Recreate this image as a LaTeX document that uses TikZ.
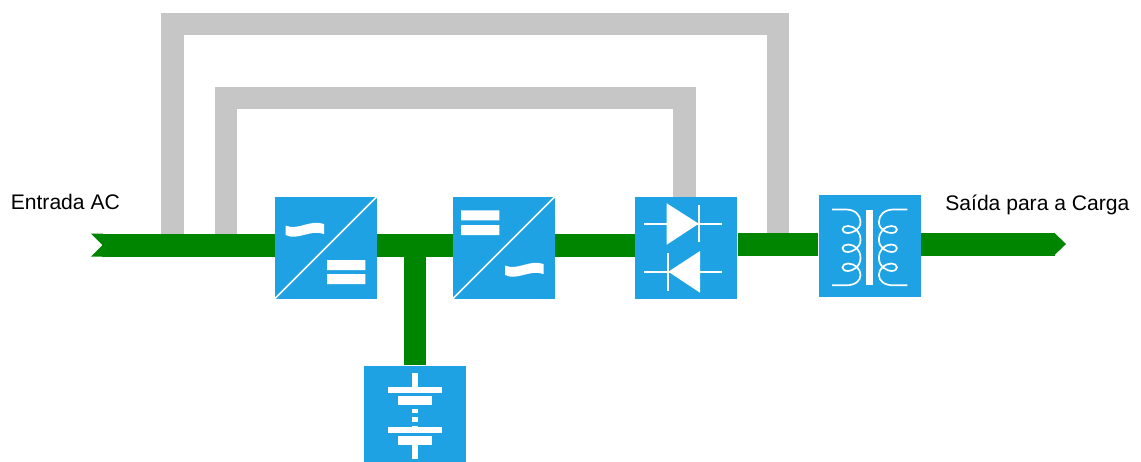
\documentclass[tikz,border=0pt]{standalone}
\usepackage{fontspec}
\setmainfont{Liberation Sans}
\definecolor{azul}{RGB}{30,162,228}
\definecolor{verde}{RGB}{0,133,0}
\definecolor{cinza}{RGB}{198,198,198}
\newcommand{\onda}{(285.5,225.5) .. controls (298,231) and (310,219) .. (324,224) -- (324,234) .. controls (310,229) and (298,241) .. (285.5,235) -- cycle}
\newcommand{\bobina}{(832,209.5) -- (846,209.5) .. controls (855,209.5) and (860.5,215) .. (860.5,222) .. controls (860.5,230) and (852,233) .. (848,233) .. controls (844,233) and (842.5,231) .. (842.5,229.3) .. controls (842.5,227) and (845,226) .. (848,226) .. controls (855,226) and (860.5,232) .. (860.5,240) .. controls (860.5,248) and (852,252) .. (848,252) .. controls (844,252) and (842.5,250) .. (842.5,248) .. controls (842.5,246) and (845,244.5) .. (848,244.5) .. controls (855,244.5) and (860.5,250) .. (860.5,258) .. controls (860.5,267) and (852,271) .. (848,271) .. controls (844,271) and (842.5,269) .. (842.5,267.3) .. controls (842.5,265) and (845,263.5) .. (848,263.5) .. controls (855,263.5) and (860.5,269) .. (860.5,275) .. controls (860.5,281) and (855,285.3) .. (846,285.3) -- (832,285.3)}

\begin{document}
\begin{tikzpicture}[x=0.02cm,y=-0.02cm,
        bloco/.style={fill=azul,minimum size=2.04cm,inner sep=0pt},
        texto/.style={anchor=base west,inner sep=0pt,font=\fontsize{12}{14}\selectfont},
        barramento/.style={draw=verde,line width=0.46cm},
        desvio/.style={draw=cinza,line width=0.45cm},
        fio/.style={draw=white,line width=0.034cm}]
    \path[use as bounding box,clip] (0,0) rectangle (1141,461);
    \node[bloco] (retificador) at (326,247.5) {};
    \node[bloco] (inversor) at (504,247.5) {};
    \node[bloco] (chave) at (686.3,247.5) {};
    \node[bloco] (trafo) at (869.7,246.3) {};
    \node[bloco] (bateria) at (415,416.8) {};
    \node[texto] (entrada) at (10.5,209.5) {Entrada AC};
    \node[texto] (saida) at (945,210.5) {Saída para a Carga};
    \coordinate (barrain) at (102,245);
    \coordinate (barraout) at (1055,244);
    \coordinate (tapa) at (172.5,233.5);
    \coordinate (tapb) at (226,233.5);
    \coordinate (tapc) at (778,232.5);
    \coordinate (tapd) at (684.5,197);
    \coordinate (topoa) at (778,24);
    \coordinate (topob) at (684.5,98);
    \draw[desvio] (tapa) |- (topoa) -- (tapc);
    \draw[desvio] (tapb) |- (topob) -- (tapd);
    \draw[barramento] (barrain) -- (barrain -| retificador.west);
    \draw[barramento] (barrain -| retificador.east) -- (barrain -| inversor.west);
    \draw[barramento] (barrain -| inversor.east) -- (barrain -| chave.west);
    \draw[barramento] (barraout -| chave.east) -- (barraout -| trafo.west);
    \draw[barramento] (barraout -| trafo.east) -- (barraout);
    \draw[barramento,line width=0.44cm] (barrain -| bateria.north) -- (bateria.north);
    \fill[verde] (91,233.5) -- (102.5,245) -- (91,256.5) -- (103,256.5) -- (103,233.5) -- cycle;
    \fill[verde] (1054,232.5) -- (1066,244) -- (1054,255.5) -- cycle;
    \draw[fio] (retificador.south west) -- (retificador.north east);
    \draw[fio] (inversor.south west) -- (inversor.north east);
    \fill[white] \onda;
    \fill[white,shift={(219.5,40)}] \onda;
    \fill[white] (327,260) rectangle (365.3,270) (327,274) rectangle (365.3,284);
    \fill[white] (461,210.3) rectangle (499.3,220.3) (461,225) rectangle (499.3,235);
    \draw[fio] (644.3,223.7) -- (722.3,223.7) (698.7,205) -- (698.7,242.3);
    \fill[white] (666.7,203.3) -- (698.7,223.7) -- (666.7,244.7) -- cycle;
    \draw[fio] (644.3,271.7) -- (722.3,271.7) (668.3,253.3) -- (668.3,290.7);
    \fill[white] (668.3,271.7) -- (700,251) -- (700,292.7) -- cycle;
    \fill[white] (866,210) rectangle (873.3,285.3);
    \draw[fio] \bobina;
    \begin{scope}[shift={(1739.4,0)},xscale=-1]
        \draw[fio] \bobina;
    \end{scope}
    \fill[white] (412.3,372.7) rectangle (417.7,387.3);
    \fill[white] (387.7,387.3) rectangle (442.3,393.3);
    \fill[white] (398.3,396) rectangle (431.7,405.3);
    \foreach \ponto in {408.7,417.3}
        \fill[white] (412,\ponto) rectangle (418,\ponto+4.4);
    \fill[white] (412,426) rectangle (418,427.3);
    \fill[white] (387.7,427.3) rectangle (442.3,433.3);
    \fill[white] (398.3,436) rectangle (431.7,445.3);
    \fill[white] (412.3,445.3) rectangle (417.7,459.3);
\end{tikzpicture}
\end{document}
